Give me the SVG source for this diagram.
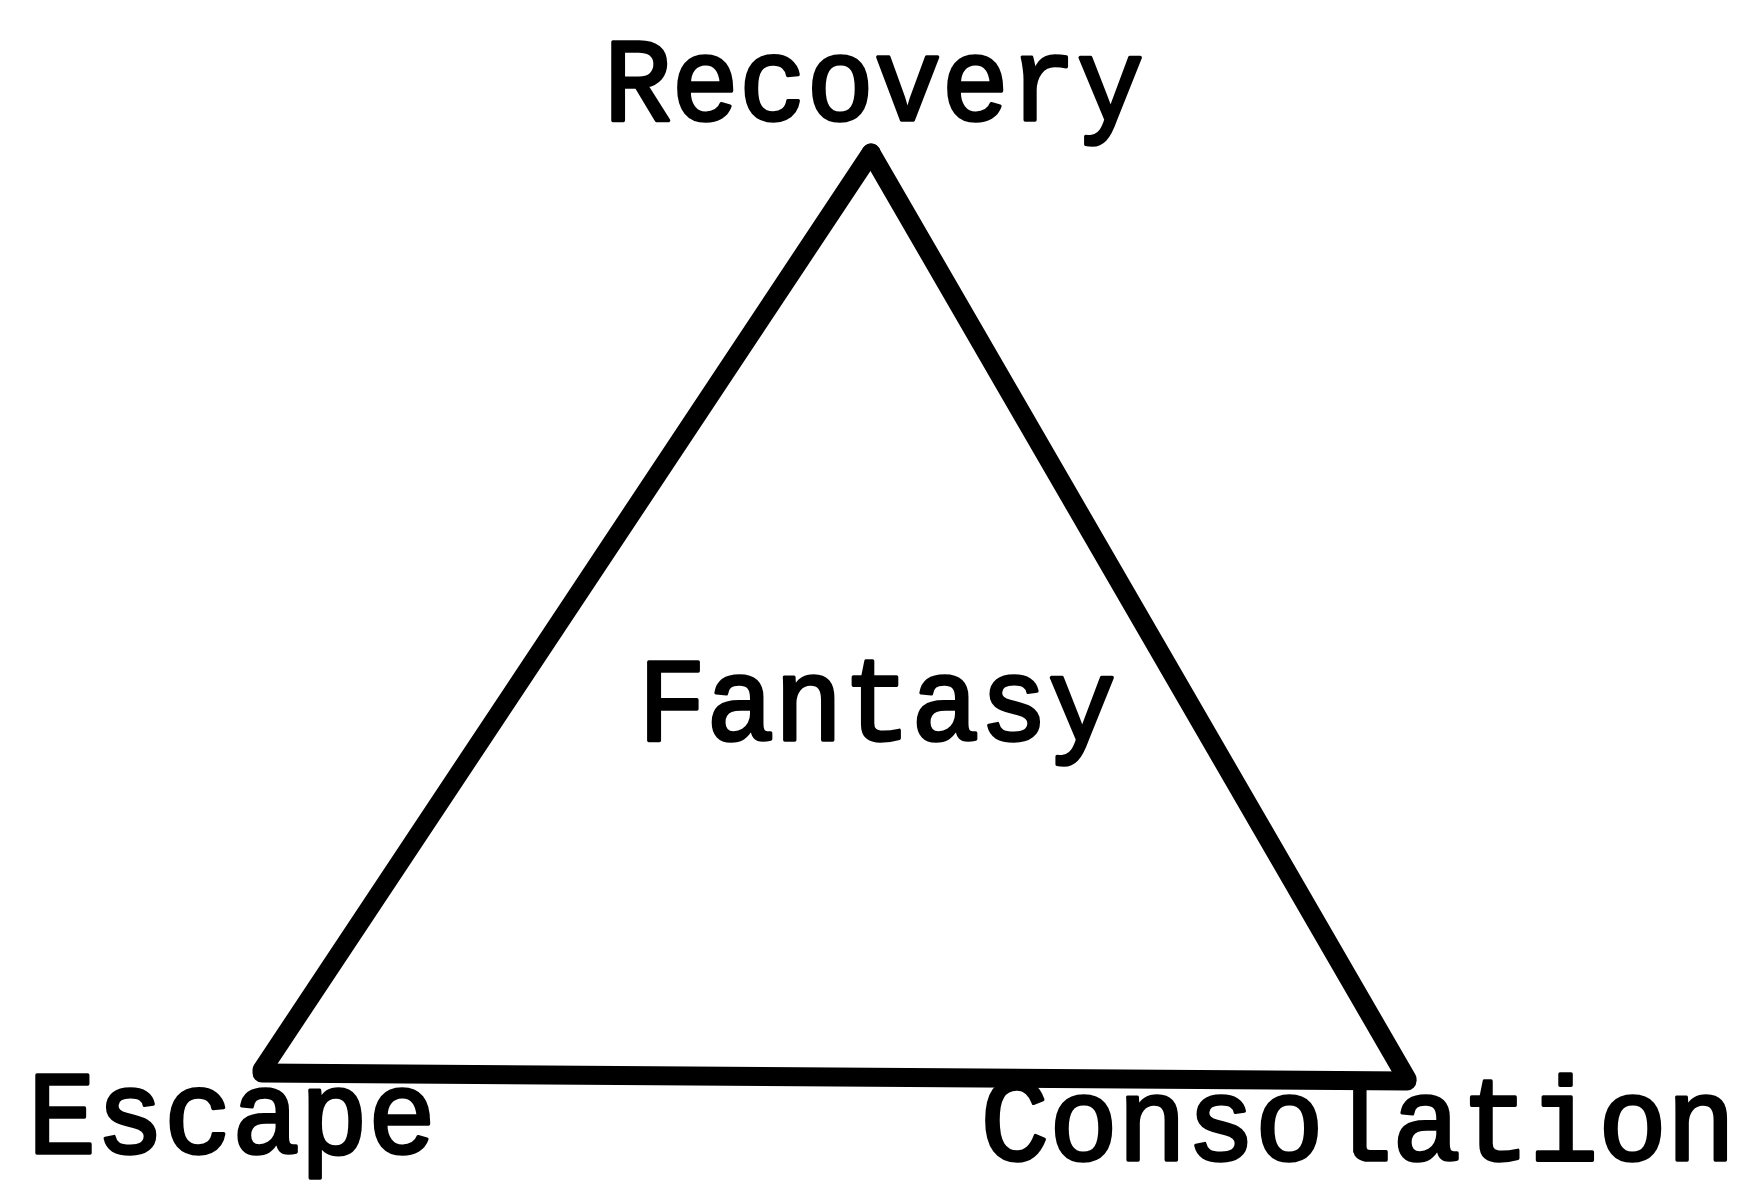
<svg xmlns="http://www.w3.org/2000/svg" width="1746" height="1181" viewBox="0 0 1746 1181">
  <style>
    .lbl { font-family: "Liberation Mono", "DejaVu Sans Mono", monospace; font-size: 118px; font-weight: normal; fill: #000; stroke: #000; stroke-width: 3.5; stroke-linejoin: round; text-anchor: middle; }
    .edge { stroke: #000; stroke-width: 19; stroke-linecap: round; stroke-linejoin: round; fill: none; }
  </style>
  <rect width="1746" height="1181" fill="#fff"/>
  <g id="connectors">
    <line class="edge" x1="871" y1="153" x2="262" y2="1070"/>
    <line class="edge" x1="871" y1="153" x2="1407" y2="1079"/>
    <line class="edge" x1="262" y1="1073" x2="1407" y2="1081" stroke-width="21"/>
  </g>
  <g id="node-recovery">
    <text class="lbl" x="874" y="120" textLength="540" lengthAdjust="spacingAndGlyphs">Recovery</text>
  </g>
  <g id="node-fantasy">
    <text class="lbl" x="877" y="740" textLength="478" lengthAdjust="spacingAndGlyphs">Fantasy</text>
  </g>
  <g id="node-escape">
    <text class="lbl" x="232" y="1153" textLength="408" lengthAdjust="spacingAndGlyphs">Escape</text>
  </g>
  <g id="node-consolation">
    <text class="lbl" x="1358" y="1160" textLength="755" lengthAdjust="spacingAndGlyphs">Consolation</text>
  </g>
</svg>
